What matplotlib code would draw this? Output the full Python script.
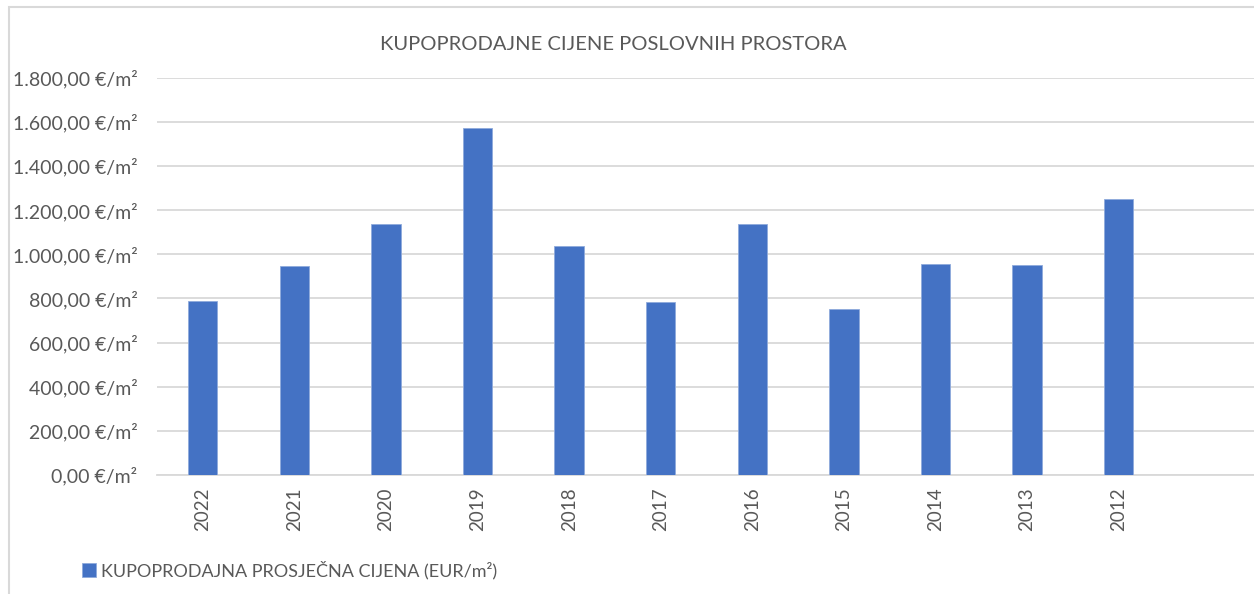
import matplotlib
matplotlib.use("Agg")
import matplotlib.pyplot as plt
from matplotlib.patches import Rectangle
from matplotlib.ticker import FuncFormatter, MultipleLocator

plt.rcParams["font.family"] = ["Lato", "DejaVu Sans"]

# podaci
godine = ["2022", "2021", "2020", "2019", "2018", "2017", "2016", "2015", "2014", "2013", "2012"]
cijene = [787, 948, 1136, 1571, 1038, 784, 1137, 752, 957, 953, 1252]

NASLOV = "KUPOPRODAJNE CIJENE POSLOVNIH PROSTORA"
LEGENDA = "KUPOPRODAJNA PROSJEČNA CIJENA (EUR/m²)"

PLAVA = "#4472C4"
SIVA_TEKST = "#595959"
SIVA_MREZA = "#D9D9D9"


def eur_format(v, pos):
    s = f"{v:,.2f}".replace(",", "X").replace(".", ",").replace("X", ".")
    return f"{s} €/m²"


W, H = 1254, 594
fig = plt.figure(figsize=(W / 100, H / 100), dpi=100)

# okvir grafikona
fig.patches.append(Rectangle((9 / W, -0.1), 1.2, (H - 6.5) / H + 0.1,
                             transform=fig.transFigure, fill=False,
                             edgecolor=SIVA_MREZA, linewidth=1.5))

ax = fig.add_axes([157 / W, 1 - 475 / H, 1099 / W, (475 - 77.7) / H])

x = list(range(len(godine)))
ax.bar(x, cijene, width=0.32, color=PLAVA, edgecolor="#8FAADC", linewidth=0.6,
       label=LEGENDA, zorder=3)

ax.set_xlim(-0.5, 11.5)
ax.set_ylim(0, 1800)
ax.yaxis.set_major_locator(MultipleLocator(200))
ax.yaxis.set_major_formatter(FuncFormatter(eur_format))
ax.set_xticks(x)
ax.set_xticklabels(godine, rotation=90)

ax.grid(axis="y", color=SIVA_MREZA, linewidth=1.3, zorder=0)
ax.set_axisbelow(True)
for s in ["top", "right", "left"]:
    ax.spines[s].set_visible(False)
ax.spines["bottom"].set_color(SIVA_MREZA)
ax.spines["bottom"].set_linewidth(1.3)

ax.tick_params(axis="y", length=0, pad=14, labelsize=14, labelcolor=SIVA_TEKST)
ax.tick_params(axis="x", length=0, pad=9, labelsize=13.5, labelcolor=SIVA_TEKST)

fig.text(613 / W, 1 - 44 / H, NASLOV, ha="center", va="center",
         fontsize=14.5, color=SIVA_TEKST)

ax.legend(loc="center left", bbox_to_anchor=(75 / W, 1 - 570 / H),
          bbox_transform=fig.transFigure, frameon=False, fontsize=13,
          labelcolor=SIVA_TEKST, handlelength=0.75, handleheight=0.75,
          handletextpad=0.3, borderaxespad=0)

fig.savefig("out.png", dpi=100)
plt.close(fig)
